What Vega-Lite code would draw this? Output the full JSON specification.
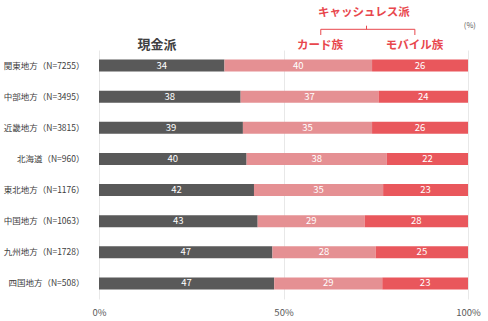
{
  "$schema": "https://vega.github.io/schema/vega-lite/v6.json",
  "autosize": "none",
  "width": 369,
  "height": 249,
  "padding": {"left": 99, "top": 50, "right": 20, "bottom": 22},
  "background": "white",
  "config": {"view": {"stroke": null}, "font": "Noto Sans CJK JP"},
  "datasets": {
    "bars": [
      {"region": "関東地方（N=7255）", "seg": "現金派", "ord": 1, "value": 34},
      {"region": "関東地方（N=7255）", "seg": "カード族", "ord": 2, "value": 40},
      {"region": "関東地方（N=7255）", "seg": "モバイル族", "ord": 3, "value": 26},
      {"region": "中部地方（N=3495）", "seg": "現金派", "ord": 1, "value": 38},
      {"region": "中部地方（N=3495）", "seg": "カード族", "ord": 2, "value": 37},
      {"region": "中部地方（N=3495）", "seg": "モバイル族", "ord": 3, "value": 24},
      {"region": "近畿地方（N=3815）", "seg": "現金派", "ord": 1, "value": 39},
      {"region": "近畿地方（N=3815）", "seg": "カード族", "ord": 2, "value": 35},
      {"region": "近畿地方（N=3815）", "seg": "モバイル族", "ord": 3, "value": 26},
      {"region": "北海道（N=960）", "seg": "現金派", "ord": 1, "value": 40},
      {"region": "北海道（N=960）", "seg": "カード族", "ord": 2, "value": 38},
      {"region": "北海道（N=960）", "seg": "モバイル族", "ord": 3, "value": 22},
      {"region": "東北地方（N=1176）", "seg": "現金派", "ord": 1, "value": 42},
      {"region": "東北地方（N=1176）", "seg": "カード族", "ord": 2, "value": 35},
      {"region": "東北地方（N=1176）", "seg": "モバイル族", "ord": 3, "value": 23},
      {"region": "中国地方（N=1063）", "seg": "現金派", "ord": 1, "value": 43},
      {"region": "中国地方（N=1063）", "seg": "カード族", "ord": 2, "value": 29},
      {"region": "中国地方（N=1063）", "seg": "モバイル族", "ord": 3, "value": 28},
      {"region": "九州地方（N=1728）", "seg": "現金派", "ord": 1, "value": 47},
      {"region": "九州地方（N=1728）", "seg": "カード族", "ord": 2, "value": 28},
      {"region": "九州地方（N=1728）", "seg": "モバイル族", "ord": 3, "value": 25},
      {"region": "四国地方（N=508）", "seg": "現金派", "ord": 1, "value": 47},
      {"region": "四国地方（N=508）", "seg": "カード族", "ord": 2, "value": 29},
      {"region": "四国地方（N=508）", "seg": "モバイル族", "ord": 3, "value": 23}
    ],
    "notes": [
      {"label": "現金派", "kind": "cash", "x": 0.157, "h": 5},
      {"label": "カード族", "kind": "cashless", "x": 0.599, "h": 4},
      {"label": "モバイル族", "kind": "cashless", "x": 0.855, "h": 4},
      {"label": "キャッシュレス派", "kind": "cashless", "x": 0.718, "h": 37.3},
      {"label": "(%)", "kind": "unit", "x": 1.005, "h": 24.3}
    ],
    "bracket": [
      {"x": 0.601, "x2": 0.856, "h": 20.7, "h2": 20.7},
      {"x": 0.601, "x2": 0.601, "h": 20.7, "h2": 15},
      {"x": 0.856, "x2": 0.856, "h": 20.7, "h2": 15},
      {"x": 0.725, "x2": 0.725, "h": 20.7, "h2": 24.3}
    ]
  },
  "layer": [
    {
      "data": {"name": "bars"},
      "transform": [
        {"stack": "value", "groupby": ["region"], "sort": [{"field": "ord"}], "offset": "normalize", "as": ["v0", "v1"]},
        {"calculate": "(datum.v0 + datum.v1) / 2", "as": "mid"}
      ],
      "encoding": {
        "y": {
          "field": "region", "type": "nominal", "sort": null,
          "scale": {"paddingInner": 0.615, "paddingOuter": 0.3075},
          "axis": {"title": null, "ticks": false, "domain": false, "labelPadding": 15, "labelFontSize": 8.5, "labelColor": "#404040", "labelFont": "Noto Sans CJK JP"}
        }
      },
      "layer": [
        {
          "mark": {"type": "bar"},
          "encoding": {
            "x": {
              "field": "v0", "type": "quantitative",
              "scale": {"domain": [0, 1], "nice": false},
              "axis": {"title": null, "values": [0, 0.5, 1], "format": "%", "domain": false, "ticks": false, "grid": true, "gridColor": "#e8e8e8", "labelPadding": 8, "labelFlush": false, "labelColor": "#595959", "labelFontSize": 9.5, "labelFont": "Noto Sans CJK JP"}
            },
            "x2": {"field": "v1"},
            "color": {
              "field": "seg", "type": "nominal", "legend": null,
              "scale": {"domain": ["現金派", "カード族", "モバイル族"], "range": ["#595959", "#e59093", "#e9575c"]}
            }
          }
        },
        {
          "mark": {"type": "text", "color": "white", "fontSize": 9.5, "font": "Noto Sans CJK JP"},
          "encoding": {
            "x": {"field": "mid", "type": "quantitative"},
            "text": {"field": "value", "type": "quantitative", "format": "d"}
          }
        }
      ]
    },
    {
      "data": {"name": "bracket"},
      "mark": {"type": "rule", "color": "#e8474d", "strokeWidth": 1},
      "encoding": {
        "x": {"field": "x", "type": "quantitative"},
        "x2": {"field": "x2"},
        "y": {"field": "h", "type": "quantitative", "scale": {"domain": [0, 50], "range": [0, -50]}, "axis": null},
        "y2": {"field": "h2"}
      }
    },
    {
      "data": {"name": "notes"},
      "layer": [
        {
          "transform": [{"filter": "datum.kind === 'cash'"}],
          "mark": {"type": "text", "color": "#404040", "fontSize": 13, "fontWeight": "bold", "baseline": "middle", "font": "Noto Sans CJK JP"},
          "encoding": {
            "x": {"field": "x", "type": "quantitative"},
            "y": {"field": "h", "type": "quantitative", "scale": {"domain": [0, 50], "range": [0, -50]}, "axis": null},
            "text": {"field": "label"}
          }
        },
        {
          "transform": [{"filter": "datum.kind === 'cashless'"}],
          "mark": {"type": "text", "color": "#e8474d", "fontSize": 11.5, "fontWeight": "bold", "baseline": "middle", "font": "Noto Sans CJK JP"},
          "encoding": {
            "x": {"field": "x", "type": "quantitative"},
            "y": {"field": "h", "type": "quantitative", "scale": {"domain": [0, 50], "range": [0, -50]}, "axis": null},
            "text": {"field": "label"}
          }
        },
        {
          "transform": [{"filter": "datum.kind === 'unit'"}],
          "mark": {"type": "text", "color": "#595959", "fontSize": 7.5, "baseline": "middle", "font": "Noto Sans CJK JP"},
          "encoding": {
            "x": {"field": "x", "type": "quantitative"},
            "y": {"field": "h", "type": "quantitative", "scale": {"domain": [0, 50], "range": [0, -50]}, "axis": null},
            "text": {"field": "label"}
          }
        }
      ]
    }
  ],
  "resolve": {"scale": {"y": "independent"}, "axis": {"y": "independent"}}
}
